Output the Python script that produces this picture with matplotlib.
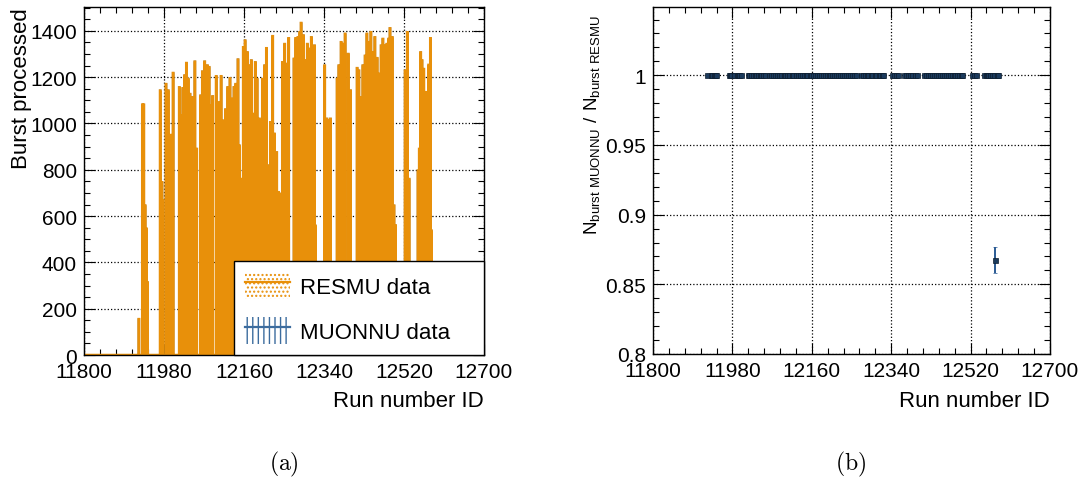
import numpy as np
import matplotlib
matplotlib.use("Agg")
import matplotlib.pyplot as plt
from matplotlib.patches import Patch
from matplotlib.lines import Line2D
from matplotlib.ticker import MultipleLocator

plt.rcParams['font.family'] = ['Liberation Sans', 'DejaVu Sans']
plt.rcParams['hatch.linewidth'] = 1.0

# runs with data and bursts processed (RESMU)
runs = [11923, 11931, 11934, 11937, 11940, 11942,
        11971, 11975, 11977, 11984, 11989, 11992, 11995, 12000,
        12014, 12017, 12022, 12026, 12030, 12034, 12038, 12042, 12045, 12049, 12053,
        12062, 12066, 12071, 12077, 12081, 12085, 12089, 12097, 12099, 12104, 12108,
        12114, 12118, 12123, 12128, 12132, 12137, 12141, 12146, 12149,
        12155, 12158, 12162, 12167, 12171, 12176, 12180, 12185, 12189, 12194, 12198,
        12201, 12206, 12210, 12215, 12219, 12224, 12228, 12233, 12237, 12242, 12246,
        12251, 12255, 12260,
        12272, 12276, 12281, 12285, 12288, 12293, 12297, 12302, 12306, 12311, 12315,
        12318, 12320,
        12341, 12346, 12351, 12354,
        12369, 12373, 12378, 12382, 12387, 12394, 12399,
        12414, 12418, 12423, 12427, 12432, 12436, 12441, 12445, 12450, 12454, 12459,
        12463, 12468, 12472, 12477, 12481, 12485, 12488, 12493, 12497, 12500,
        12522, 12527, 12531,
        12551, 12554, 12557, 12560, 12564, 12569, 12572, 12575, 12579, 12581]
resmu_bursts = [155, 1081, 1081, 645, 545, 314,
                1142, 746, 667, 1170, 1142, 947, 950, 1218,
                1156, 1034, 1152, 1207, 1261, 1192, 1127, 1113, 818, 1267, 890,
                1120, 1224, 1267, 1250, 1243, 1077, 1117, 1204, 1055, 1091, 1204,
                1012, 1060, 1156, 1195, 1106, 1156, 1170, 1276, 904,
                760, 1329, 1358, 1307, 1250, 1272, 1041, 1264, 1192, 1020, 875,
                1192, 1250, 1325, 818, 1005, 1377, 955, 875, 703, 696, 1264,
                1343, 1257, 1368,
                1279, 1368, 1372, 1394, 1434, 1380, 1272, 1343, 1322, 1372, 1322,
                1336, 558,
                1250, 1020, 1012, 1020,
                1192, 1250, 1351, 1343, 1387, 1300, 1142,
                1239, 1228, 1113, 1250, 1292, 1387, 1351, 1394, 1307, 1372, 1282,
                1214, 1336, 1365, 1336, 1343, 1365, 1411, 1372, 645, 560,
                1228, 1394, 760,
                796, 890, 1307, 1272, 1235, 1135, 969, 1253, 1368, 537]

# runs where MUONNU differs from RESMU
muonnu_diff_runs = [12575]
muonnu_diff_bursts = [1087]

run_min, run_max = 11800, 12700
orange = '#E8900A'
blue = '#3C6C9E'
navy = '#1B3A5C'

edges = np.arange(run_min, run_max + 1)
resmu = np.zeros(run_max - run_min)
resmu[np.array(runs) - run_min] = resmu_bursts
muonnu = resmu.copy()
muonnu[np.array(muonnu_diff_runs) - run_min] = muonnu_diff_bursts

fig = plt.figure(figsize=(10.85, 4.81), dpi=100)
ax1 = fig.add_axes([84 / 1085, 1 - 356 / 481, 400 / 1085, 348 / 481])
ax2 = fig.add_axes([653 / 1085, 1 - 355 / 481, 397 / 1085, 347 / 481])


def style_axes(ax):
    ax.set_xlim(run_min, run_max)
    ax.set_xticks(np.arange(run_min, run_max + 1, 180))
    ax.set_xticks(np.arange(run_min, run_max + 1, 36), minor=True)
    ax.tick_params(which='both', direction='in', top=True, right=True,
                   labelsize=15, width=0.8)
    ax.tick_params(which='major', length=8)
    ax.tick_params(which='minor', length=4)
    ax.tick_params(axis='x', pad=5)
    ax.tick_params(axis='y', pad=5)
    ax.grid(True, which='major', ls=':', color='black', lw=0.9)
    ax.set_axisbelow(True)
    for s in ax.spines.values():
        s.set_linewidth(1.0)
    ax.set_xlabel('Run number ID', fontsize=16, loc='right')


# (a) bursts processed
style_axes(ax1)
ax1.stairs(muonnu, edges, fill=True, facecolor='none', edgecolor=blue,
           hatch='|||', lw=0)
ax1.stairs(muonnu, edges, color=blue, lw=1.4)
ax1.stairs(resmu, edges, fill=True, facecolor='none', edgecolor=orange,
           hatch='....', lw=0)
ax1.stairs(resmu, edges, color=orange, lw=1.8)
ax1.set_ylim(0, 1503)
ax1.yaxis.set_major_locator(MultipleLocator(200))
ax1.yaxis.set_minor_locator(MultipleLocator(50))
ax1.set_ylabel('Burst processed', fontsize=16, loc='top')
ax1.yaxis.set_label_coords(-0.13, 1.0)
ax1.xaxis.set_label_coords(1.0, -0.1)

h_resmu = (Patch(facecolor='none', edgecolor=orange, hatch='....', lw=0),
           Line2D([], [], color=orange, lw=1.6))
h_muonnu = (Patch(facecolor='none', edgecolor=blue, hatch='|||', lw=0),
            Line2D([], [], color=blue, lw=1.6))
leg = ax1.legend([h_resmu, h_muonnu], ['RESMU data', 'MUONNU data'],
                 loc='lower left', bbox_to_anchor=(0.375, 0.0, 0.625, 0.27),
                 mode='expand', borderaxespad=0, fontsize=16, fancybox=False,
                 framealpha=1, edgecolor='black', handlelength=2.0,
                 handleheight=1.5, labelspacing=0.8, borderpad=0.5,
                 handletextpad=0.45)
leg.get_frame().set_linewidth(1.0)

# (b) ratio MUONNU / RESMU
style_axes(ax2)
mask = resmu > 0
centers = edges[:-1][mask] + 0.5
ratio = muonnu[mask] / resmu[mask]
ratio_err = np.sqrt(ratio * (1 - ratio) / resmu[mask])
ax2.errorbar(centers, ratio, xerr=0.5, yerr=ratio_err, fmt='s', ms=3.6,
             color=navy, mfc=navy, mec='#0d1d2e', mew=0.5, elinewidth=1.4,
             ecolor='#2a5a94', capsize=1.5, capthick=1.2)
ax2.set_ylim(0.8, 1.049)
ax2.yaxis.set_major_locator(MultipleLocator(0.05))
ax2.yaxis.set_minor_locator(MultipleLocator(0.01))
ax2.yaxis.set_major_formatter(plt.FuncFormatter(lambda v, p: f'{v:g}'))
ax2.set_ylabel(r'$\mathregular{N_{burst\ MUONNU}\ /\ N_{burst\ RESMU}}$',
               fontsize=13.5, loc='top')
ax2.yaxis.set_label_coords(-0.128, 0.98)
ax2.xaxis.set_label_coords(1.0, -0.105)

fig.text(284 / 1085, 1 - 464 / 481, r'$\mathrm{(a)}$', fontsize=17,
         ha='center', va='center', math_fontfamily='cm')
fig.text(851 / 1085, 1 - 464 / 481, r'$\mathrm{(b)}$', fontsize=17,
         ha='center', va='center', math_fontfamily='cm')

fig.savefig('out.png', dpi=100)
